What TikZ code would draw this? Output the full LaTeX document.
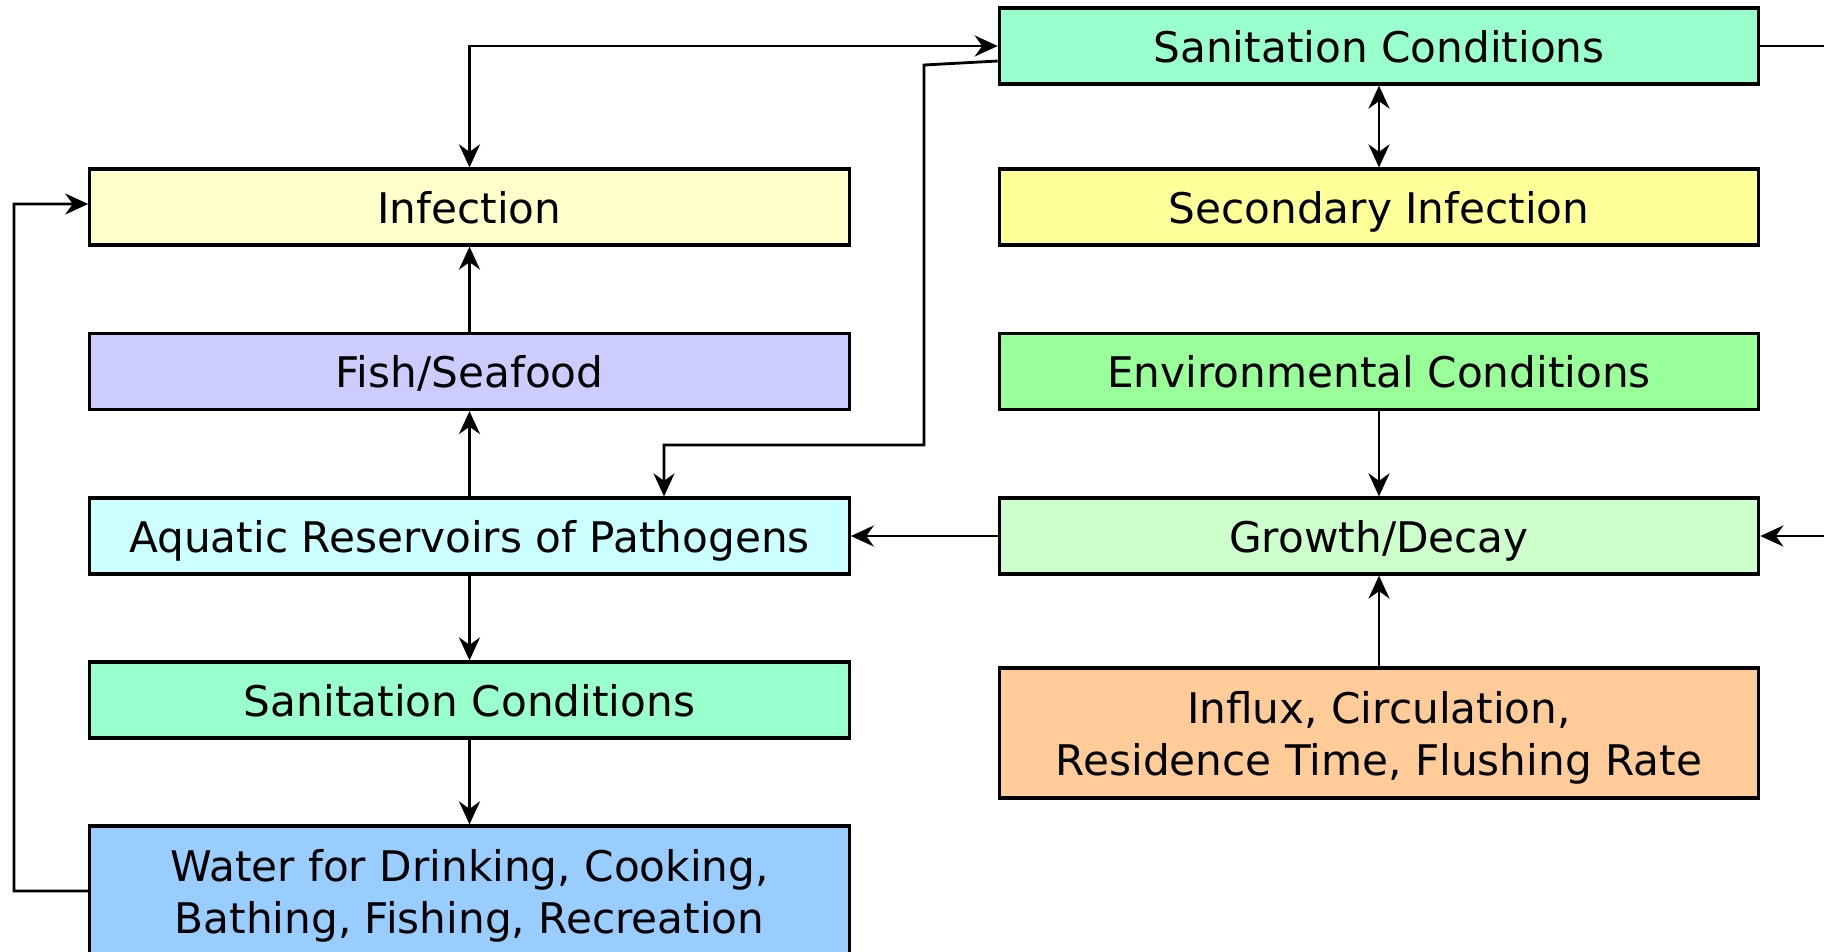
\documentclass[tikz,border=0pt]{standalone}
\usepackage{fontspec}
\setmainfont{DejaVu Sans}
\usetikzlibrary{arrows.meta, calc}

\definecolor{sanit}{HTML}{99FFCC}
\definecolor{infect}{HTML}{FFFFCC}
\definecolor{secinf}{HTML}{FFFF99}
\definecolor{fish}{HTML}{CCCCFF}
\definecolor{envir}{HTML}{99FF99}
\definecolor{aquat}{HTML}{CCFFFF}
\definecolor{growth}{HTML}{CCFFCC}
\definecolor{water}{HTML}{99CCFF}
\definecolor{influx}{HTML}{FFCC99}

\tikzset{
  box/.style={draw, line width=0.9pt, minimum width=7.59cm, minimum height=0.76cm,
    inner sep=0pt, align=center, font=\fontsize{12}{14.8}\selectfont,
    text height=0.92em, text depth=0pt},
  tallbox/.style={box, minimum height=1.30cm, text height=},
}

\begin{document}
\begin{tikzpicture}[x=0.01cm, y=-0.01cm, >={Stealth[length=0.23cm,width=0.21cm]}, line width=0.8pt]
      \useasboundingbox (0,0) rectangle (1824,951);
      \clip (0,0) rectangle (1824,951);
      % left column
      \node[box, fill=infect] (inf) at (469.5,207) {Infection};
      \node[box, fill=fish] (fish) at (469.5,371.5) {Fish/Seafood};
      \node[box, fill=aquat] (aqua) at (469.5,536) {Aquatic Reservoirs of Pathogens};
      \node[box, fill=sanit] (sanL) at (469.5,700) {Sanitation Conditions};
      \node[tallbox, fill=water] (water) at (469.5,891) {Water for Drinking, Cooking,\\Bathing, Fishing, Recreation};
      % right column
      \node[box, fill=sanit] (sanR) at (1379,46) {Sanitation Conditions};
      \node[box, fill=secinf] (sec) at (1379,207) {Secondary Infection};
      \node[box, fill=envir] (env) at (1379,371.5) {Environmental Conditions};
      \node[box, fill=growth] (grow) at (1379,536) {Growth/Decay};
      \node[tallbox, fill=influx] (flux) at (1379,733) {Influx, Circulation,\\Residence Time, Flushing Rate};
      % bends and free ends
      \coordinate (k1) at (924,65);
      \coordinate (k3) at (664,445);
      \coordinate (k4) at (14,204);
      \coordinate (e1) at (1824,46);
      \coordinate (e2) at (1824,536);
      % vertical lines
      \draw[->] (fish) -- (inf);
      \draw[->] (aqua) -- (fish);
      \draw[->] (aqua) -- (sanL);
      \draw[->] (sanL) -- (water);
      \draw[<->] (sanR) -- (sec);
      \draw[->] (env) -- (grow);
      \draw[->] (flux) -- (grow);
      % horizontal lines
      \draw[->] (grow) -- (aqua);
      \draw[<->] (inf.north) |- (sanR.west);
      \draw[->] ([yshift=-0.15cm]sanR.west) -- (k1) |- (k3) -- (k3 |- aqua.north);
      \draw[->] (water.west) -| (k4) -- ([yshift=0.03cm]inf.west);
      % lines leaving the picture
      \draw (sanR.east) -- (e1);
      \draw[->] (e2) -- (grow.east);
    \end{tikzpicture}
\end{document}
